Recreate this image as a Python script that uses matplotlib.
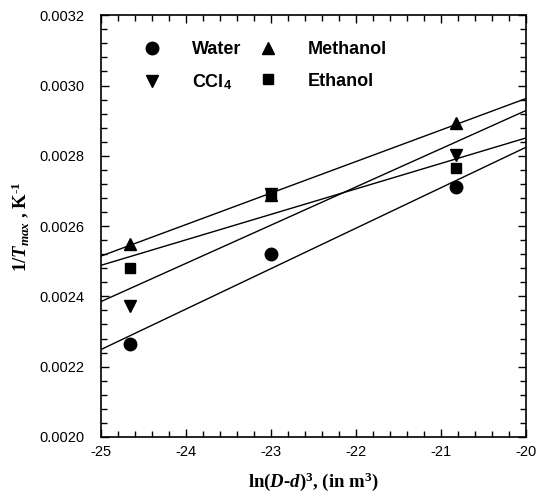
import numpy as np
import matplotlib
matplotlib.use('Agg')
import matplotlib.pyplot as plt
from matplotlib.ticker import MultipleLocator, FormatStrFormatter

plt.rcParams['font.family'] = 'Liberation Sans'
plt.rcParams['axes.unicode_minus'] = False
plt.rcParams['mathtext.fontset'] = 'custom'
plt.rcParams['mathtext.rm'] = 'Liberation Serif:bold'
plt.rcParams['mathtext.it'] = 'Liberation Serif:italic:bold'
plt.rcParams['mathtext.bf'] = 'Liberation Serif:bold'
plt.rcParams['mathtext.sf'] = 'Liberation Sans:bold'

# ln(D-d)^3 positions of the three measurements
x = [-24.65, -23.0, -20.82]

water = [0.002265, 0.00252, 0.002712]
methanol = [0.002549, 0.002688, 0.002892]
ccl4 = [0.002373, 0.00269, 0.002802]
ethanol = [0.00248, 0.002692, 0.002766]

series = [
    ('Water', water, 'o', 9),
    (r'CCl$_\mathsf{4}$', ccl4, 'v', 9),
    ('Methanol', methanol, '^', 9),
    ('Ethanol', ethanol, 's', 7.5),
]

fig = plt.figure(figsize=(5.37, 5.01), dpi=100)
ax = fig.add_axes([0.1875, 0.128, 0.792, 0.8415])

xfit = np.array([-25, -20])
handles = []
for name, y, m, ms in series:
    k, b = np.polyfit(x, y, 1)
    ax.plot(xfit, k * xfit + b, 'k-', lw=1)
    h, = ax.plot(x, y, m, color='k', ms=ms, ls='none', label=name)
    handles.append(h)

ax.set_xlim(-25, -20)
ax.set_ylim(0.0020, 0.0032)
ax.xaxis.set_major_locator(MultipleLocator(1))
ax.xaxis.set_minor_locator(MultipleLocator(0.2))
ax.yaxis.set_major_locator(MultipleLocator(0.0002))
ax.yaxis.set_minor_locator(MultipleLocator(0.00004))
ax.yaxis.set_major_formatter(FormatStrFormatter('%.4f'))
ax.tick_params(which='both', direction='in', top=True, right=True,
               labelsize=10.5, width=1)
ax.tick_params(which='major', length=6)
ax.tick_params(which='minor', length=4)
ax.tick_params(axis='x', which='major', pad=6)
ax.tick_params(axis='y', which='major', pad=12)
for s in ax.spines.values():
    s.set_linewidth(1.2)

ax.set_xlabel(r'ln($D$-$d$)$^3$, (in m$^3$)', fontsize=13.5,
              family='Liberation Serif', weight='bold', labelpad=8)
ax.set_ylabel(r'1/$T_{max}$ , K$^{\text{-1}}$', fontsize=13.5,
              family='Liberation Serif', weight='bold', labelpad=6)

ax.legend(handles=handles, ncol=2, loc='upper left',
          bbox_to_anchor=(0.04, 0.977), frameon=False,
          prop={'weight': 'bold', 'size': 13},
          handletextpad=1.2, columnspacing=0.5, labelspacing=0.8)

fig.savefig('out.png', dpi=100)
